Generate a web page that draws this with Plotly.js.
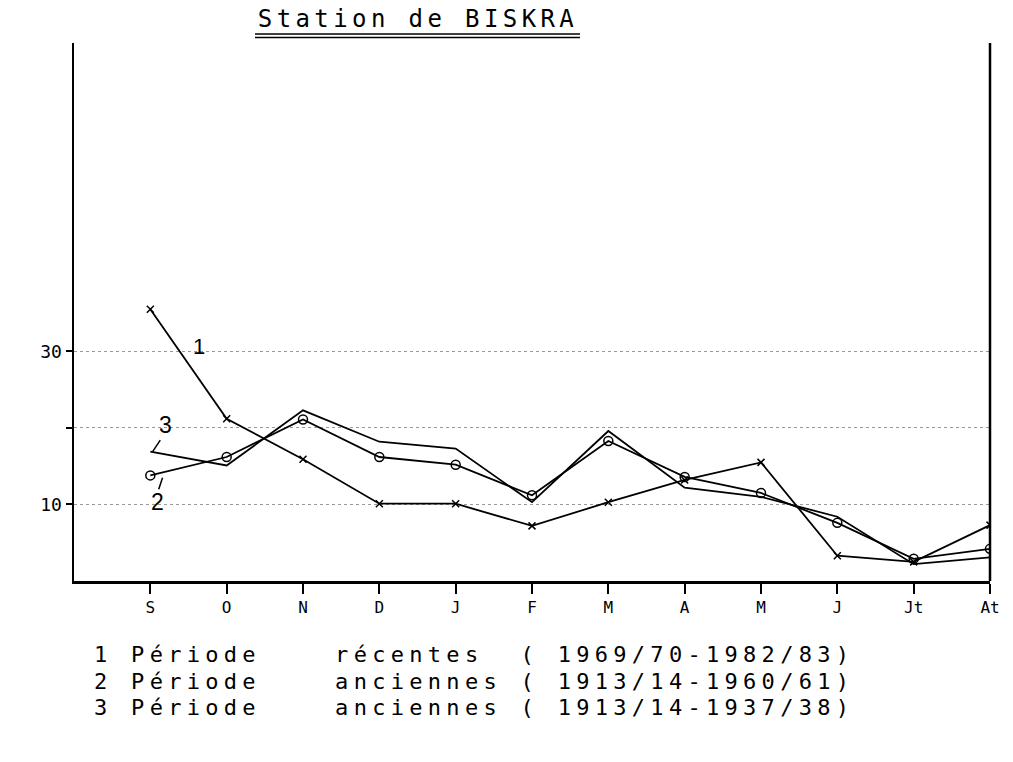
<!DOCTYPE html>
<html>
<head>
<meta charset="utf-8">
<script src="https://cdn.plot.ly/plotly-3.0.1.min.js"></script>
<style>
html, body { margin:0; padding:0; background:#fff; }
#chart { width:1013px; height:762px; }
.gtitle { letter-spacing: 4.4px; }
</style>
</head>
<body>
<div id="chart"></div>
<script>
// Month tick labels (Sept -> Aug)
var months = ['S', 'O', 'N', 'D', 'J', 'F', 'M', 'A', 'M', 'J', 'Jt', 'At'];
var monthIdx = [0, 1, 2, 3, 4, 5, 6, 7, 8, 9, 10, 11];
// 1 : Période récentes (1969/70-1982/83)
var recentes = [35.5, 21.2, 15.9, 10.1, 10.1, 7.2, 10.3, 13.2, 15.5, 3.3, 2.5, 7.3];
// 2 : Période anciennes (1913/14-1960/61)
var anciennes1 = [13.8, 16.2, 21.1, 16.2, 15.2, 11.2, 18.3, 13.6, 11.5, 7.6, 2.9, 4.2];
// 3 : Période anciennes (1913/14-1937/38)
var anciennes2 = [16.9, 15.1, 22.3, 18.2, 17.3, 10.3, 19.6, 12.2, 11.0, 8.4, 2.2, 3.1];
// y tick labels
var yTickVals = [10, 20, 30];
var yTickText = ['10', '', '30'];
// legend lines
var legendLines = [
  '1 Période    récentes  ( 1969/70-1982/83)',
  '2 Période    anciennes ( 1913/14-1960/61)',
  '3 Période    anciennes ( 1913/14-1937/38)'
];

var mono = 'DejaVu Sans Mono, Liberation Mono, monospace';
var sans = 'Liberation Sans, Arial, sans-serif';

var traces = [
  { x: monthIdx, y: recentes, mode: 'lines+markers', name: '1',
    line: { color: '#000', width: 1.8 },
    marker: { symbol: 'x-thin', size: 7, line: { color: '#000', width: 1.5 } } },
  { x: monthIdx, y: anciennes1, mode: 'lines+markers', name: '2',
    line: { color: '#000', width: 1.8 },
    marker: { symbol: 'circle-open', size: 9, color: '#000', line: { color: '#000', width: 1.5 } } },
  { x: monthIdx, y: anciennes2, mode: 'lines', name: '3',
    line: { color: '#000', width: 1.8 } }
];

var W = 1013, H = 762, ML = 74, MR = 23, MT = 43, MB = 181;
var plotW = W - ML - MR, plotH = H - MT - MB;
function px(x) { return (x - ML) / plotW; }
function py(y) { return (H - MB - y) / plotH; }

var annotations = [
  { x: 0.64, y: 30.6, xref: 'x', yref: 'y', text: '1', showarrow: false,
    font: { family: sans, size: 22, color: '#000' } },
  { x: 0.2, y: 20.4, xref: 'x', yref: 'y', text: '3', showarrow: false,
    font: { family: sans, size: 23, color: '#000' } },
  { x: 0.09, y: 10.3, xref: 'x', yref: 'y', text: '2', showarrow: false,
    font: { family: sans, size: 23, color: '#000' } }
];
var legendY = [655, 681, 707];
for (var i = 0; i < 3; i++) {
  annotations.push({ x: px(93), y: py(legendY[i]), xref: 'paper', yref: 'paper',
    text: '<span style="letter-spacing:5.3px">' + legendLines[i] + '</span>',
    showarrow: false, xanchor: 'left', yanchor: 'middle', borderpad: 0,
    font: { family: mono, size: 22, color: '#000' } });
}

var layout = {
  width: W, height: H,
  margin: { l: ML, r: MR, t: MT, b: MB },
  paper_bgcolor: '#fff', plot_bgcolor: '#fff',
  showlegend: false,
  title: { text: 'Station de BISKRA', font: { family: mono, size: 24, color: '#000' },
    xref: 'paper', x: px(418), xanchor: 'center', yref: 'container', y: 1 - 19 / H, yanchor: 'middle' },
  xaxis: { range: [-1, 11], tickvals: monthIdx, ticktext: months,
    showline: true, linecolor: '#000', linewidth: 2.5, showgrid: false, zeroline: false,
    ticks: 'outside', ticklen: 10, tickwidth: 2, tickcolor: '#000',
    tickfont: { family: mono, size: 16, color: '#000' } },
  yaxis: { range: [0, 70.3], tickvals: yTickVals, ticktext: yTickText,
    showline: true, linecolor: '#000', linewidth: 2.5, zeroline: false,
    showgrid: true, gridcolor: '#999', griddash: 'dot', gridwidth: 1,
    ticks: 'outside', ticklen: 6, tickwidth: 2, tickcolor: '#000',
    tickfont: { family: mono, size: 18, color: '#000' } },
  shapes: [
    { type: 'line', xref: 'paper', yref: 'paper', x0: 1, x1: 1, y0: 0, y1: 1,
      line: { color: '#000', width: 2.5 } },
    { type: 'line', xref: 'paper', yref: 'paper', x0: px(255), x1: px(580), y0: py(34), y1: py(34),
      line: { color: '#000', width: 1.5 } },
    { type: 'line', xref: 'paper', yref: 'paper', x0: px(255), x1: px(580), y0: py(37.5), y1: py(37.5),
      line: { color: '#000', width: 1.5 } },
    { type: 'line', xref: 'x', yref: 'y', x0: 0.13, x1: 0.03, y0: 18.4, y1: 16.9,
      line: { color: '#000', width: 1.5 } },
    { type: 'line', xref: 'x', yref: 'y', x0: 0.16, x1: 0.11, y0: 13.5, y1: 12.0,
      line: { color: '#000', width: 1.5 } }
  ],
  annotations: annotations
};

Plotly.newPlot('chart', traces, layout, { displayModeBar: false, staticPlot: true });
</script>
</body>
</html>
